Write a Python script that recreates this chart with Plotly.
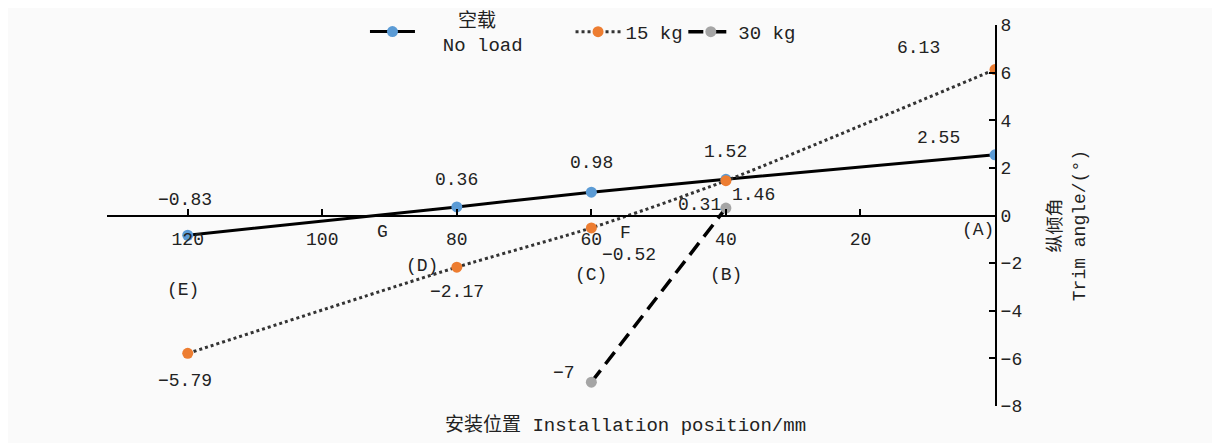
import plotly.graph_objects as go

# ---- data ----
x_pos = [120, 80, 60, 40, 0]
no_load = [-0.83, 0.36, 0.98, 1.52, 2.55]
kg15 = [-5.79, -2.17, -0.52, 1.46, 6.13]
x_30 = [60, 40]
kg30 = [-7, 0.31]

x_ticks = [120, 100, 80, 60, 40, 20]
y_ticks = [-8, -6, -4, -2, 0, 2, 4, 6, 8]

pos_names = ["(A)", "(B)", "(C)", "(D)", "(E)", "F", "G"]
pos_x = [2.5, 40, 60, 85.2, 120.7, 54.9, 91.1]
pos_y = [-0.61, -2.5, -2.5, -2.12, -3.13, -0.74, -0.69]

# label pixel offsets (style)
off_no_load = [(-3, 35), (0, 27), (0, 29), (0, 27), (-57, 17)]
off_15 = [(-3, -28), (0, -25), (38, -27), (28, -14), (-77, 22)]
off_30 = [(-27, 9), (-26, 3)]

FONT = "Liberation Mono, Noto Sans CJK SC, monospace"
BG = "#fafafa"
TXT = "#222"
NB = "\u00a0"

fig = go.Figure()

fig.add_trace(go.Scatter(
    x=x_pos, y=no_load, mode="lines+markers",
    name=NB * 3 + "\u2009空载<br>" + NB * 2 + "No load",
    line=dict(color="black", width=3, shape="spline", smoothing=0.6),
    marker=dict(color="#5b9bd5", size=11), legend="legend"))
fig.add_trace(go.Scatter(
    x=x_pos, y=kg15, mode="lines+markers", name="15 kg",
    line=dict(color="#333333", width=3, dash="dot", shape="spline", smoothing=0.6),
    marker=dict(color="#ed7d31", size=11), legend="legend2"))
fig.add_trace(go.Scatter(
    x=x_30, y=kg30, mode="lines+markers", name="30 kg",
    line=dict(color="black", width=3.5, dash="15px,8px"),
    marker=dict(color="#a5a5a5", size=11), legend="legend3"))

annos = []
def fmt(v):
    s = f"{v:g}"
    return s.replace("-", "\u2212")

for xs, ys, offs in [(x_pos, no_load, off_no_load), (x_pos, kg15, off_15), (x_30, kg30, off_30)]:
    for xv, yv, (dx, dy) in zip(xs, ys, offs):
        annos.append(dict(x=xv, y=yv, xref="x", yref="y", text=fmt(yv), showarrow=False,
                          xshift=dx, yshift=dy, font=dict(family=FONT, size=18, color=TXT)))

for t, xv, yv in zip(pos_names, pos_x, pos_y):
    annos.append(dict(x=xv, y=yv, xref="x", yref="y", text=t, showarrow=False,
                      font=dict(family=FONT, size=18, color=TXT)))

annos.append(dict(x=0.584, y=-0.05, xref="paper", yref="paper",
                  text="安装位置 Installation position/mm", showarrow=False,
                  yanchor="middle", font=dict(family=FONT, size=19, color=TXT)))
annos.append(dict(x=1.082, y=0.474, xref="paper", yref="paper",
                  xanchor="center", yanchor="middle",
                  text="纵倾角<br>Trim angle/(°)", showarrow=False, textangle=-90,
                  align="center", font=dict(family=FONT, size=18, color=TXT)))

leg_common = dict(orientation="h", yanchor="middle", y=0.982, bgcolor="rgba(0,0,0,0)",
                  itemwidth=45, font=dict(family=FONT, size=19, color=TXT))

# page body adds an 8px offset: compensate in size and margins
fig.update_layout(
    width=1212, height=435,
    margin=dict(l=99, r=225, t=17, b=37, autoexpand=False),
    paper_bgcolor=BG, plot_bgcolor=BG,
    font=dict(family=FONT, size=18, color=TXT),
    annotations=annos,
    showlegend=True,
    legend=dict(x=0.2905, **leg_common),
    legend2=dict(x=0.522, **leg_common),
    legend3=dict(x=0.649, **leg_common),
    xaxis=dict(range=[132, 0], anchor="free", position=0.5, showline=True,
               linecolor="black", linewidth=2, ticks="inside", ticklen=6, tickwidth=2,
               tickcolor="black", tickvals=x_ticks, showgrid=False, zeroline=False,
               ticklabelstandoff=7, tickfont=dict(family=FONT, size=18, color=TXT)),
    yaxis=dict(range=[-8, 8], side="right", anchor="x", showline=True, linecolor="black",
               linewidth=2, ticks="inside", ticklen=6, tickwidth=2, tickcolor="black",
               tickvals=y_ticks, ticktext=[fmt(v) for v in y_ticks],
               showgrid=False, zeroline=False,
               tickfont=dict(family=FONT, size=18, color=TXT)),
)

fig.write_html("out.html")
